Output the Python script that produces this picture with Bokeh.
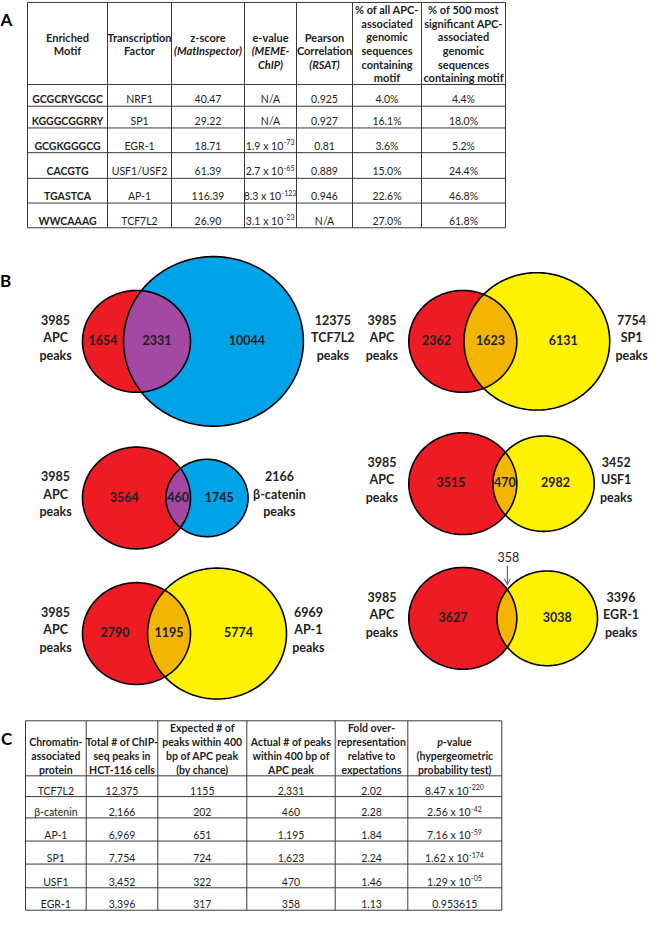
import math
import numpy as np
from bokeh.plotting import figure
from bokeh.models import Range1d, Arrow, OpenHead, ColumnDataSource
from bokeh.core.properties import value
from bokeh.embed import file_html
from bokeh.resources import INLINE

# ============================ DATA ============================
# Panel A - enriched motifs
motifs = ["GCGCRYGCGC", "KGGGCGGRRY", "GCGKGGGCG", "CACGTG", "TGASTCA", "WWCAAAG"]
motif_factors = ["NRF1", "SP1", "EGR-1", "USF1/USF2", "AP-1", "TCF7L2"]
z_scores = [40.47, 29.22, 18.71, 61.39, 116.39, 26.90]
e_values = [None, None, 1.9e-73, 2.7e-65, 8.3e-123, 3.1e-23]
pearson_r = [0.925, 0.927, 0.81, 0.889, 0.946, None]
pct_all_apc = [4.0, 16.1, 3.6, 15.0, 22.6, 27.0]
pct_top500_apc = [4.4, 18.0, 5.2, 24.4, 46.8, 61.8]

# Panel B - Venn diagrams (APC peaks vs factor peaks)
apc_peaks = 3985
venn_factors = ["TCF7L2", "β-catenin", "AP-1", "SP1", "USF1", "EGR-1"]
venn_factor_peaks = [12375, 2166, 6969, 7754, 3452, 3396]
venn_overlap = [2331, 460, 1195, 1623, 470, 358]
venn_apc_only = [1654, 3564, 2790, 2362, 3515, 3627]
venn_factor_only = [10044, 1745, 5774, 6131, 2982, 3038]

# Panel C - co-localisation statistics
proteins = ["TCF7L2", "β-catenin", "AP-1", "SP1", "USF1", "EGR-1"]
chip_peaks = [12375, 2166, 6969, 7754, 3452, 3396]
expected_by_chance = [1155, 202, 651, 724, 322, 317]
actual_near_apc = [2331, 460, 1195, 1623, 470, 358]
fold_over = [2.02, 2.28, 1.84, 2.24, 1.46, 1.13]
p_values = [8.47e-220, 2.56e-42, 7.16e-59, 1.62e-174, 1.29e-05, 0.953615]

headers_A = [
    ["Enriched", "Motif"],
    ["Transcription", "Factor"],
    ["z-score", "(MatInspector)"],
    ["e-value", "(MEME-", "ChIP)"],
    ["Pearson", "Correlation", "(RSAT)"],
    ["% of all APC-", "associated", "genomic", "sequences", "containing", "motif"],
    ["% of 500 most", "significant APC-", "associated", "genomic", "sequences", "containing motif"],
]
italic_A = {"(MatInspector)", "(MEME-", "ChIP)", "(RSAT)"}

headers_C = [
    ["Chromatin-", "associated", "protein"],
    ["Total # of ChIP-", "seq peaks in", "HCT-116 cells"],
    ["Expected # of", "peaks within 400", "bp of APC peak", "(by chance)"],
    ["Actual # of peaks", "within 400 bp of", "APC peak"],
    ["Fold over-", "representation", "relative to", "expectations"],
    ["p-value", "(hypergeometric", "probability test)"],
]

# ============================ STYLE / LAYOUT ============================
FONT = "Lato"
TXT = "#1e1e1e"
GRID = "#3a3a3a"
RED = "#ED1C24"
PARTNER_COLORS = ["#00A2E8", "#00A2E8", "#FFF200", "#FFF200", "#FFF200", "#FFF200"]
OVERLAP_COLORS = ["#A349A4", "#A349A4", "#F2B600", "#F2B600", "#F2B600", "#F2B600"]

COLS_A = [33, 113, 177, 250, 302, 358, 427, 511]
ROWS_A = [3, 86, 108, 130, 155, 181, 206, 231]
COLS_C = [31, 91.7, 163.3, 252.3, 340.7, 413.3, 507.3]
ROWS_C = [730, 785.7, 806.7, 828.3, 851.7, 875, 899, 921.7]

VENN_X = [142, 142, 142, 468.3, 468.3, 468.3]
VENN_Y = [346, 504.5, 641.7, 346, 490, 626.3]
VENN_LABEL_MODE = ["inside", "inside", "inside", "inside", "inside", "arrow"]
APC_R = 54.0          # radius of the APC circle in px
RADIUS_EXP = 0.45     # circle radius grows as (peaks / APC peaks) ** RADIUS_EXP
ASPECT = 0.954

p = figure(width=651, height=911, x_range=Range1d(6, 657), y_range=Range1d(923, 1),
           output_backend="svg", toolbar_location=None,
           x_axis_location=None, y_axis_location=None, min_border=0,
           outline_line_color=None, background_fill_color="white",
           border_fill_color="white")
p.grid.visible = False

texts = {}


def add_text(x, y, s, size=10.5, style="normal", align="center", color=TXT):
    key = (size, style, align, color)
    d = texts.setdefault(key, dict(x=[], y=[], text=[]))
    d["x"].append(x)
    d["y"].append(y)
    d["text"].append(s)


def text_w(s, size, bold=False):
    w = 0.0
    for ch in s:
        if ch.isdigit():
            w += 0.58
        elif ch in ".,":
            w += 0.22
        elif ch == " ":
            w += 0.2
        elif ch == "-":
            w += 0.33
        elif ch == "x":
            w += 0.48
        elif ch.isupper():
            w += 0.65
        elif ch in "iljtfr":
            w += 0.3
        elif ch in "mw":
            w += 0.8
        else:
            w += 0.52
    return w * size * (1.04 if bold else 1.0)


def add_sci(xc, y, v, digits, size=10.5, sup_size=7):
    m, e = f"{v:.{digits}e}".split("e")
    main = f"{m} x 10"
    wm, ws = text_w(main, size), text_w(e, sup_size)
    join = xc - (wm + ws) / 2 + wm
    add_text(join, y, main, size=size, align="right")
    add_text(join + 0.5, y - 3.5, e, size=sup_size, align="left")


def draw_grid(cols, rows):
    x0, y0, x1, y1 = [], [], [], []
    for x in cols:
        x0.append(x); x1.append(x); y0.append(rows[0]); y1.append(rows[-1])
    for y in rows:
        x0.append(cols[0]); x1.append(cols[-1]); y0.append(y); y1.append(y)
    p.segment(x0=x0, y0=y0, x1=x1, y1=y1, line_color=GRID, line_width=1)


def centers(edges):
    return [(a + b) / 2 for a, b in zip(edges[:-1], edges[1:])]


# ---------------- Panel letters ----------------
add_text(12, 20, "A", size=17, style="bold", color="black")
add_text(11, 284, "B", size=17, style="bold", color="black")
add_text(12, 748, "C", size=17, style="bold", color="black")

# ---------------- Panel A table ----------------
draw_grid(COLS_A, ROWS_A)
cA = centers(COLS_A)
for ci, lines in enumerate(headers_A):
    start = 38 if len(lines) <= 3 else 10
    for li, ln in enumerate(lines):
        st = "bold italic" if ln in italic_A else "bold"
        add_text(cA[ci], start + li * 13.85, ln, size=11, style=st)

for ri in range(len(motifs)):
    y = ROWS_A[ri + 2] - 7
    add_text(cA[0], y, motifs[ri], style="bold")
    add_text(cA[1], y, motif_factors[ri])
    add_text(cA[2], y, f"{z_scores[ri]:.2f}")
    if e_values[ri] is None:
        add_text(cA[3], y, "N/A")
    else:
        add_sci(cA[3], y, e_values[ri], 1)
    add_text(cA[4], y, "N/A" if pearson_r[ri] is None else str(pearson_r[ri]))
    add_text(cA[5], y, f"{pct_all_apc[ri]:.1f}%")
    add_text(cA[6], y, f"{pct_top500_apc[ri]:.1f}%")

# ---------------- Panel B Venn diagrams ----------------


def lens_area(d, r1, r2):
    if d >= r1 + r2:
        return 0.0
    if d <= abs(r1 - r2):
        return math.pi * min(r1, r2) ** 2
    a1 = r1 * r1 * math.acos((d * d + r1 * r1 - r2 * r2) / (2 * d * r1))
    a2 = r2 * r2 * math.acos((d * d + r2 * r2 - r1 * r1) / (2 * d * r2))
    a3 = 0.5 * math.sqrt((-d + r1 + r2) * (d + r1 - r2) * (d - r1 + r2) * (d + r1 + r2))
    return a1 + a2 - a3


def solve_distance(r1, r2, target):
    lo, hi = abs(r1 - r2) + 1e-6, r1 + r2
    for _ in range(80):
        mid = (lo + hi) / 2
        if lens_area(mid, r1, r2) > target:
            lo = mid
        else:
            hi = mid
    return (lo + hi) / 2


t = np.linspace(0, 2 * np.pi, 241)
for i in range(len(venn_factors)):
    cx, cy = VENN_X[i], VENN_Y[i]
    rA = APC_R
    rB = APC_R * (venn_factor_peaks[i] / apc_peaks) ** RADIUS_EXP
    # overlap lens covers the same share of the APC circle as in the data
    d = solve_distance(rA, rB, math.pi * rA * rA * venn_overlap[i] / apc_peaks)
    cxB = cx + d
    ax, ay = cx + rA * np.cos(t), cy + ASPECT * rA * np.sin(t)
    bx, by = cxB + rB * np.cos(t), cy + ASPECT * rB * np.sin(t)
    p.patch(ax, ay, fill_color=RED, line_color=None)
    p.patch(bx, by, fill_color=PARTNER_COLORS[i], line_color=None)
    x0 = (d * d + rA * rA - rB * rB) / (2 * d)
    h = math.sqrt(max(rA * rA - x0 * x0, 0))
    thA = math.atan2(h, x0)
    thB = math.atan2(h, d - x0)
    ta = np.linspace(-thA, thA, 80)
    tb = np.linspace(np.pi - thB, np.pi + thB, 80)
    lx = np.concatenate([cx + rA * np.cos(ta), cxB + rB * np.cos(tb)])
    ly = np.concatenate([cy + ASPECT * rA * np.sin(ta), cy + ASPECT * rB * np.sin(tb)])
    p.patch(lx, ly, fill_color=OVERLAP_COLORS[i], line_color=None)
    p.line(ax, ay, line_color="black", line_width=1.6)
    p.line(bx, by, line_color="black", line_width=1.6)

    yl = cy - 1.5
    add_text((cx - rA + cxB - rB) / 2, yl, str(venn_apc_only[i]), size=12.5, style="bold")
    add_text((cx + rA + cxB + rB) / 2, yl, str(venn_factor_only[i]), size=12.5, style="bold")
    if VENN_LABEL_MODE[i] == "inside":
        add_text((cxB - rB + cx + rA) / 2, yl, str(venn_overlap[i]), size=12.5, style="bold")
    else:
        xi = cx + x0
        yi = cy - ASPECT * h
        tip = yi - 5
        p.add_layout(Arrow(end=OpenHead(size=6, line_color="#555555", line_width=1),
                           x_start=xi, y_start=tip - 19, x_end=xi, y_end=tip,
                           line_color="#555555", line_width=1))
        add_text(xi + 1, tip - 28, str(venn_overlap[i]), size=12.5)

    left_lines = [str(apc_peaks), "APC", "peaks"]
    right_lines = [str(venn_factor_peaks[i]), venn_factors[i], "peaks"]
    lw = max(text_w(s, 12.5, True) for s in left_lines)
    rw = max(text_w(s, 12.5, True) for s in right_lines)
    lx_c = cx - rA - 10 - lw / 2
    rx_c = cxB + rB + 5 + rw / 2
    for li in range(3):
        yy = cy - 22 + li * 18
        add_text(lx_c, yy, left_lines[li], size=12.5, style="bold")
        add_text(rx_c, yy, right_lines[li], size=12.5, style="bold")

# ---------------- Panel C table ----------------
draw_grid(COLS_C, ROWS_C)
cC = centers(COLS_C)
for ci, lines in enumerate(headers_C):
    n = len(lines)
    for li, ln in enumerate(lines):
        y = 779.3 - (n - 1 - li) * 14
        if ln == "p-value":
            wp = text_w("p", 10.5, True)
            wr = text_w("-value", 10.5, True)
            join = cC[ci] - (wp + wr) / 2 + wp
            add_text(join, y, "p", size=10.5, style="bold italic", align="right")
            add_text(join, y, "-value", size=10.5, style="bold", align="left")
        else:
            add_text(cC[ci], y, ln, size=10.5, style="bold")

for ri in range(len(proteins)):
    y = ROWS_C[ri + 2] - 6
    add_text(cC[0], y, proteins[ri])
    add_text(cC[1], y, f"{chip_peaks[ri]:,}")
    add_text(cC[2], y, str(expected_by_chance[ri]))
    add_text(cC[3], y, f"{actual_near_apc[ri]:,}")
    add_text(cC[4], y, f"{fold_over[ri]:.2f}")
    if p_values[ri] < 0.01:
        add_sci(cC[5], y, p_values[ri], 2, size=10.5, sup_size=7)
    else:
        add_text(cC[5], y, str(p_values[ri]))

# ---------------- render texts ----------------
for (size, style, align, color), d in texts.items():
    p.text(x="x", y="y", text="text", source=ColumnDataSource(d),
           text_font=value(FONT), text_font_size=f"{size}px",
           text_font_style=style, text_align=align, text_baseline="middle",
           text_color=color)

open("out.html", "w").write(file_html(p, INLINE))
